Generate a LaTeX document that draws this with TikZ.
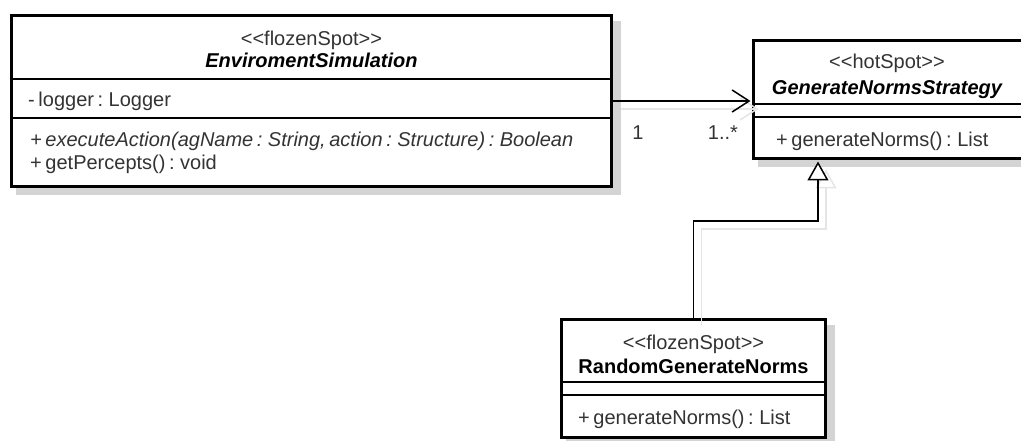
\documentclass[tikz,border=0pt]{standalone}
\usepackage{fontspec}
\setmainfont{Liberation Sans}[WordSpace=0.65]
\usetikzlibrary{arrows.meta,backgrounds}
\newcommand{\stype}[1]{<\kern0pt<#1>\kern0pt>}

\begin{document}
\begin{tikzpicture}[x=1pt,y=-1pt,
  every node/.style={font=\fontsize{20}{23}\selectfont,text=black!80,inner sep=0pt},
  classbox/.style={draw=black,line width=3pt,fill=white},
  boxshadow/.style={fill=black!17},
  divider/.style={line width=1.5pt},
  stereo/.style={anchor=base},
  cname/.style={anchor=base,font=\fontsize{20}{23}\selectfont\bfseries,text=black},
  member/.style={anchor=base west},
  wire/.style={line width=1.5pt},
  wireshadow/.style={line width=1.5pt,draw=black!10,transform canvas={shift={(8,8)}}},
  assochead/.style={-{Straight Barb[length=17pt,width=22pt]}},
  genhead/.style={-{Triangle[open,length=19pt,width=21pt,fill=white]}}]
\useasboundingbox (0,0) rectangle (1021,441);
\node (sim) at (311.5, 101) [classbox,minimum width=600pt,minimum height=171pt] {};
\node (gns) at (888.5, 99.5) [classbox,minimum width=270pt,minimum height=118pt] {};
\node (rgn) at (693.5, 378.5) [classbox,minimum width=264pt,minimum height=118pt] {};
\begin{scope}[on background layer]
\fill [boxshadow] ([shift={(6,7)}]sim.north west) rectangle ([shift={(7.5,7.5)}]sim.south east);
\fill [boxshadow] ([shift={(6,7)}]gns.north west) rectangle ([shift={(7.5,7.5)}]gns.south east);
\fill [boxshadow] ([shift={(6,7)}]rgn.north west) rectangle ([shift={(7.5,7.5)}]rgn.south east);
\end{scope}
\coordinate (elbow) at (818, 221);
\draw [divider] (sim.west |- 0,79) -- (sim.east |- 0,79);
\draw [divider] (sim.west |- 0,118) -- (sim.east |- 0,118);
\draw [divider] (gns.west |- 0,104) -- (gns.east |- 0,104);
\draw [divider] (gns.west |- 0,117) -- (gns.east |- 0,117);
\draw [divider] (rgn.west |- 0,382) -- (rgn.east |- 0,382);
\draw [divider] (rgn.west |- 0,395) -- (rgn.east |- 0,395);
\node (simstereo) at (311.5, 45.5) [stereo] {\stype{flozenSpot}};
\node (simname) at (311.5, 67.5) [cname] {\itshape EnviromentSimulation};
\node (simattr) at (28, 106.5) [member] {- logger : Logger};
\node (simop1) at (30, 146.5) [member] {\itshape + executeAction(agName : String, action : Structure) : Boolean};
\node (simop2) at (30, 169.5) [member] {+ getPercepts() : void};
\node (gnsstereo) at (887, 68.5) [stereo] {\stype{hotSpot}};
\node (gnsname) at (887, 94.5) [cname] {\itshape GenerateNormsStrategy};
\node (gnsop) at (776, 146.5) [member] {+ generateNorms() : List};
\node (rgnstereo) at (693.5, 349.5) [stereo] {\stype{flozenSpot}};
\node (rgnname) at (693.5, 373.5) [cname] {RandomGenerateNorms};
\node (rgnop) at (578, 424.5) [member] {+ generateNorms() : List};
\draw [wireshadow,assochead,shorten >=1.5pt] (sim.east) -- (sim.east -| gns.west);
\draw [wireshadow,genhead,shorten >=1.5pt] (rgn.north) |- (elbow) -- (elbow |- gns.south);
\draw [wire,assochead,shorten >=1.5pt] (sim.east) -- (sim.east -| gns.west);
\draw [wire,genhead,shorten >=1.5pt] (rgn.north) |- (elbow) -- (elbow |- gns.south);
\node (srcmult) at (638, 133) {1};
\node (dstmult) at (723, 133) {1..*};
\end{tikzpicture}
\end{document}
